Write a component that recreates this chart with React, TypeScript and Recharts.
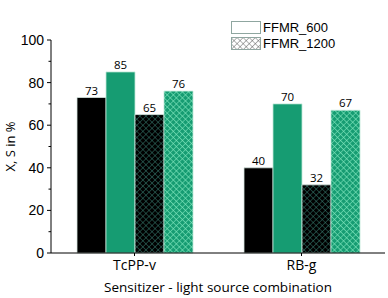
import React from "react"
import { BarChart, Bar, XAxis, YAxis, LabelList, Legend } from "recharts"

const categories = ["TcPP-v", "RB-g"]
const conversion600 = [73, 40]
const selectivity600 = [85, 70]
const conversion1200 = [65, 32]
const selectivity1200 = [76, 67]
const yTicks = [0, 10, 20, 30, 40, 50, 60, 70, 80, 90, 100]
const legendItems = ["FFMR_600", "FFMR_1200"]

const data = categories.map((name, i) => ({
  name,
  x600: conversion600[i],
  s600: selectivity600[i],
  x1200: conversion1200[i],
  s1200: selectivity1200[i],
}))

const AXIS_X = 51
const GREEN = "#169c72"
const sans = "'Open Sans', sans-serif"
const arial = "'Liberation Sans', Arial, sans-serif"

function YTick(props: any) {
  const { y, payload } = props
  const major = payload.value % 20 === 0
  return (
    <g>
      <line x1={AXIS_X - (major ? 4 : 2.5)} x2={AXIS_X} y1={y} y2={y} stroke="#000" />
      {major && (
        <text x={AXIS_X - 7} y={y} dy="0.36em" textAnchor="end" fontSize={14} fontFamily={arial} fill="#000">
          {payload.value}
        </text>
      )}
    </g>
  )
}

function LegendBox() {
  return (
    <div style={{ fontFamily: arial, fontSize: 13, color: "#000", lineHeight: "13px" }}>
      {legendItems.map((name, i) => (
        <div key={name} style={{ display: "flex", alignItems: "center", height: 13, marginBottom: 3 }}>
          <svg width={30} height={13} style={{ marginRight: 2 }}>
            <rect
              x={0.5}
              y={0.5}
              width={29}
              height={12}
              fill={i === 0 ? "#fff" : "url(#hatchLegend)"}
              stroke="#8fa6a0"
            />
          </svg>
          <span>{name}</span>
        </div>
      ))}
    </div>
  )
}

export default function App() {
  return (
    <div style={{ position: "absolute", left: 0, top: 0, width: 388, height: 298, background: "#fff" }}>
      <BarChart
        width={388}
        height={298}
        data={data}
        margin={{ top: 8, right: 3, left: 0, bottom: 0 }}
        barCategoryGap={26}
        barGap={0}
      >
        <defs>
          <pattern id="hatchBlack" width="4.3" height="4.3" patternUnits="userSpaceOnUse" patternTransform="rotate(45)">
            <rect width="4.3" height="4.3" fill="#000" />
            <path d="M0 0 H4.3 M0 0 V4.3" stroke="#3d8a7c" strokeWidth="0.9" />
          </pattern>
          <pattern id="hatchGreen" width="4.3" height="4.3" patternUnits="userSpaceOnUse" patternTransform="rotate(45)">
            <rect width="4.3" height="4.3" fill={GREEN} />
            <path d="M0 0 H4.3 M0 0 V4.3" stroke="#7fe6bd" strokeWidth="1.1" />
          </pattern>
          <pattern id="hatchLegend" width="4.3" height="4.3" patternUnits="userSpaceOnUse" patternTransform="rotate(45)">
            <rect width="4.3" height="4.3" fill="#fff" />
            <path d="M0 0 H4.3 M0 0 V4.3" stroke="#555" strokeWidth="0.9" />
          </pattern>
        </defs>
        <XAxis
          dataKey="name"
          height={45}
          axisLine={{ stroke: "#000" }}
          tickLine={{ stroke: "#000" }}
          tickSize={3}
          tickMargin={4}
          tick={{ fill: "#000", fontSize: 14, fontFamily: sans }}
          label={{
            value: "Sensitizer - light source combination",
            position: "insideBottom",
            offset: 6,
            fill: "#000",
            fontSize: 13.5,
            fontFamily: sans,
          }}
        />
        <YAxis
          width={51}
          domain={[0, 100]}
          ticks={yTicks}
          interval={0}
          axisLine={{ stroke: "#000" }}
          tickLine={false}
          tick={<YTick />}
          label={{
            value: "X, S in %",
            angle: -90,
            position: "center",
            dx: -15,
            fill: "#000",
            fontSize: 13,
            fontFamily: sans,
          }}
        />
        <Legend
          verticalAlign="top"
          align="left"
          content={() => <LegendBox />}
          wrapperStyle={{ position: "absolute", left: 231, top: 21, width: 120 }}
        />
        <Bar dataKey="x600" fill="#000" stroke="#d6e6e0" strokeWidth={0.8} isAnimationActive={false}>
          <LabelList dataKey="x600" position="top" offset={3} fill="#000" fontSize={11.5} fontFamily={sans} />
        </Bar>
        <Bar dataKey="s600" fill={GREEN} stroke="#bfe8d8" strokeWidth={0.8} isAnimationActive={false}>
          <LabelList dataKey="s600" position="top" offset={3} fill="#000" fontSize={11.5} fontFamily={sans} />
        </Bar>
        <Bar dataKey="x1200" fill="url(#hatchBlack)" stroke="#d6e6e0" strokeWidth={0.8} isAnimationActive={false}>
          <LabelList dataKey="x1200" position="top" offset={3} fill="#000" fontSize={11.5} fontFamily={sans} />
        </Bar>
        <Bar dataKey="s1200" fill="url(#hatchGreen)" stroke="#bfe8d8" strokeWidth={0.8} isAnimationActive={false}>
          <LabelList dataKey="s1200" position="top" offset={3} fill="#000" fontSize={11.5} fontFamily={sans} />
        </Bar>
      </BarChart>
    </div>
  )
}
